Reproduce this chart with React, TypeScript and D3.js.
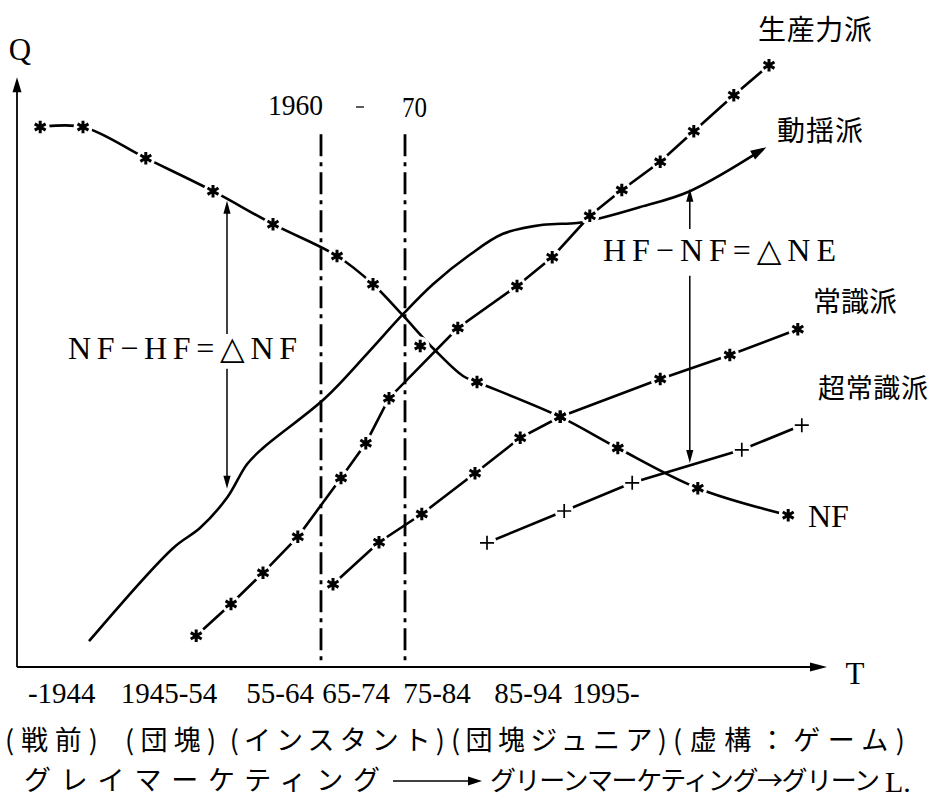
import React from "react";
import * as d3 from "d3";

type P = [number, number];

// x: period position (0–100), y: Q (0–100)
const nfPath: P[] = [[2.9, 90], [8.25, 90], [16.1, 84.8], [24.5, 79.3], [32, 73.8], [40, 68.5], [44.5, 63.8], [48.1, 58.8], [52.1, 53], [55.75, 48.5], [57.5, 47.5], [67.9, 41.7], [75.1, 36.5], [85.1, 29.8], [96.4, 25.3]];
const nfMarks: P[] = [[2.9, 90], [8.25, 90], [16.1, 84.8], [24.5, 79.3], [32, 73.8], [40, 68.5], [44.5, 63.8], [50.4, 53.5], [57.5, 47.5], [67.9, 41.7], [75.1, 36.5], [85.1, 29.8], [96.4, 25.3]];
const productive: P[] = [[22.4, 5.2], [26.75, 10.5], [30.75, 15.7], [35.1, 21.7], [40.5, 31.5], [43.6, 37.3], [46.5, 44.8], [55.1, 56.5], [62.5, 63.5], [66.9, 68.3], [71.6, 75.2], [75.6, 79.5], [80.4, 84.2], [84.6, 89.3], [89.6, 95.3], [94, 100.3]];
const sway: P[] = [[9, 4.3], [19.5, 19.8], [22.9, 23.2], [26.25, 28.2], [28.75, 33.8], [30.75, 36.5], [38.5, 44.8], [43.75, 52.2], [48.25, 58.8], [52, 63.8], [56.6, 68.7], [60.75, 72.2], [65.75, 73.7], [70, 74], [72.9, 74.8], [77.5, 76.5], [84.1, 79.3], [93.25, 86.3]];
const common: P[] = [[39.5, 13.8], [45.25, 20.8], [50.6, 25.5], [57.25, 32.3], [62.9, 38.2], [67.9, 41.7], [80.4, 48], [89.1, 52], [97.6, 56.3]];
const superCommon: P[] = [[58.75, 20.7], [68.4, 26], [76.9, 30.7], [90.6, 36.2], [98.1, 40.3]];

const periodLineX = [38, 48.5];
const periodLineTop = 88.8;

const tickLabels = ["-1944", "1945-54", "55-64", "65-74", "75-84", "85-94", "1995-"];
const tickAt = [5.6, 19, 32.9, 42.4, 52.5, 63.9, 73.6];

const eraLabels = ["(戦前)", "(団塊)", "(インスタント)", "(団塊ジュニア)", "(虚構：ゲーム)"];
const eraSpan: P[] = [[-1.5, 10.1], [13.5, 24.9], [26.6, 53.5], [54.25, 81.25], [82, 111]];

// delta arrows: [x, top tip, gap top, gap bottom, bottom tip]
const deltaNF = [26.25, 77.7, 55.5, 49.7, 29.7];
const deltaNE = [84.1, 79.7, 73, 65.2, 34];

const W = 939, H = 798;
const SERIF = "'Liberation Serif', 'DejaVu Serif', serif";
const CJK = "'Noto Sans CJK JP', sans-serif";

function Star({ cx, cy }: { cx: number; cy: number }) {
  const r = 6.3;
  const d = [90, 30, -30].map(a => {
    const t = (a * Math.PI) / 180;
    return `M${cx - r * Math.cos(t)},${cy - r * Math.sin(t)}L${cx + r * Math.cos(t)},${cy + r * Math.sin(t)}`;
  }).join("");
  return (
    <g>
      <path d={d} stroke="#000" strokeWidth={3} strokeLinecap="butt" />
      <circle cx={cx} cy={cy} r={2.8} fill="#000" />
    </g>
  );
}

function Plus({ cx, cy }: { cx: number; cy: number }) {
  const r = 7;
  return <path d={`M${cx - r},${cy}H${cx + r}M${cx},${cy - r}V${cy + r}`} stroke="#000" strokeWidth={1.7} />;
}

function arrowHead(tipX: number, tipY: number, angle: number, len: number, half: number) {
  const bx = tipX - len * Math.cos(angle), by = tipY - len * Math.sin(angle);
  const nx = -Math.sin(angle), ny = Math.cos(angle);
  return `M${tipX},${tipY}L${bx + nx * half},${by + ny * half}L${bx - nx * half},${by - ny * half}Z`;
}

export default function App() {
  const x = d3.scaleLinear().domain([0, 100]).range([17, 817]);
  const y = d3.scaleLinear().domain([0, 100]).range([667, 67]);

  const curve = d3.line<P>().x(d => x(d[0])).y(d => y(d[1])).curve(d3.curveCatmullRom.alpha(0.5));
  const straight = d3.line<P>().x(d => x(d[0])).y(d => y(d[1]));

  const x0 = x(0), y0 = y(0);
  const xTip = x(101.25), yTip = y(98.3);

  const last = sway[sway.length - 1], prev = sway[sway.length - 2];
  const swayAng = Math.atan2(y(last[1]) - y(prev[1]), x(last[0]) - x(prev[0]));

  const starMarks: P[] = [...nfMarks, ...productive, ...common];

  const deltaArrow = (a: number[]) => {
    const ax = x(a[0]);
    return (
      <g>
        <line x1={ax} x2={ax} y1={y(a[1]) + 10} y2={y(a[2])} stroke="#000" strokeWidth={1.5} />
        <line x1={ax} x2={ax} y1={y(a[3])} y2={y(a[4]) - 10} stroke="#000" strokeWidth={1.5} />
        <path d={arrowHead(ax, y(a[1]), -Math.PI / 2, 13, 3.6)} fill="#000" />
        <path d={arrowHead(ax, y(a[4]), Math.PI / 2, 13, 3.6)} fill="#000" />
      </g>
    );
  };

  return (
    <svg width={W} height={H} viewBox={`0 0 ${W} ${H}`} style={{ display: "block", position: "absolute", left: 0, top: 0, background: "#fff" }}>
      <rect width={W} height={H} fill="#fff" />
      {/* axes */}
      <line x1={x0} x2={x0} y1={y0} y2={yTip + 12} stroke="#000" strokeWidth={1.8} />
      <path d={arrowHead(x0, yTip, -Math.PI / 2, 15, 4.5)} fill="#000" />
      <line x1={x0} x2={xTip - 12} y1={y0} y2={y0} stroke="#000" strokeWidth={1.8} />
      <path d={arrowHead(xTip, y0, 0, 17, 4.5)} fill="#000" />
      <text x={x0 + 3} y={60} fontFamily={SERIF} fontSize={31} textAnchor="middle">Q</text>
      <text x={xTip + 28} y={684} fontFamily={SERIF} fontSize={31} textAnchor="middle">T</text>

      {/* series */}
      <g fill="none" stroke="#000" strokeWidth={2.6}>
        <path d={curve(nfPath) || ""} />
        <path d={straight(productive) || ""} />
        <path d={curve(sway) || ""} />
        <path d={straight(common) || ""} />
        <path d={straight(superCommon) || ""} />
      </g>
      <path d={arrowHead(x(last[0]) + 4 * Math.cos(swayAng), y(last[1]) + 4 * Math.sin(swayAng), swayAng, 16, 5)} fill="#000" />

      {/* gaps around markers */}
      <g fill="#fff">
        {starMarks.map((d, i) => <circle key={"g" + i} cx={x(d[0])} cy={y(d[1])} r={9.5} />)}
        {superCommon.map((d, i) => <circle key={"h" + i} cx={x(d[0])} cy={y(d[1])} r={9.5} />)}
      </g>

      {/* period lines */}
      {periodLineX.map((v, i) => (
        <line key={"v" + i} x1={x(v)} x2={x(v)} y1={y(periodLineTop)} y2={y0} stroke="#000" strokeWidth={2.8} strokeDasharray="22 6 4 6" />
      ))}
      <text x={x(periodLineX[0]) + 2} y={115} fontFamily={SERIF} fontSize={30} textAnchor="end" textLength={55} lengthAdjust="spacingAndGlyphs">1960</text>
      <line x1={356} x2={364} y1={107} y2={107} stroke="#000" strokeWidth={1.3} />
      <text x={x(periodLineX[1]) - 3} y={117} fontFamily={SERIF} fontSize={30} textLength={25} lengthAdjust="spacingAndGlyphs">70</text>

      {/* delta arrows */}
      {deltaArrow(deltaNF)}
      {deltaArrow(deltaNE)}
      <text x={68} y={359} fontFamily={SERIF} fontSize={32} textLength={229} lengthAdjust="spacing">NF−HF=△NF</text>
      <text x={603} y={261} fontFamily={SERIF} fontSize={32} textLength={233} lengthAdjust="spacing">HF−NF=△NE</text>

      {/* markers */}
      {starMarks.map((d, i) => <Star key={"s" + i} cx={x(d[0])} cy={y(d[1])} />)}
      {superCommon.map((d, i) => <Plus key={"p" + i} cx={x(d[0])} cy={y(d[1])} />)}

      {/* series labels */}
      <text x={758} y={40} fontFamily={CJK} fontSize={28} textLength={114} lengthAdjust="spacing">生産力派</text>
      <text x={777} y={141} fontFamily={CJK} fontSize={28} textLength={86} lengthAdjust="spacing">動揺派</text>
      <text x={813} y={312} fontFamily={CJK} fontSize={28} textLength={84} lengthAdjust="spacing">常識派</text>
      <text x={818} y={398} fontFamily={CJK} fontSize={27} textLength={110} lengthAdjust="spacing">超常識派</text>
      <text x={808} y={527} fontFamily={SERIF} fontSize={32}>NF</text>

      {/* x tick labels */}
      {tickLabels.map((t, i) => (
        <text key={"t" + i} x={x(tickAt[i])} y={703} fontFamily={SERIF} fontSize={29} textAnchor="middle">{t}</text>
      ))}
      {eraLabels.map((t, i) => (
        <text key={"e" + i} x={x(eraSpan[i][0])} y={750} fontFamily={CJK} fontSize={27} textLength={(eraSpan[i][1] - eraSpan[i][0]) * 8} lengthAdjust="spacing">{t}</text>
      ))}
      <text x={24} y={790} fontFamily={CJK} fontSize={27} textLength={356} lengthAdjust="spacing">グレイマーケティング</text>
      <line x1={393} x2={470} y1={781} y2={781} stroke="#000" strokeWidth={1.5} />
      <path d={arrowHead(482, 781, 0, 14, 4.5)} fill="#000" />
      <text x={490} y={790} fontFamily={CJK} fontSize={26} textLength={390} lengthAdjust="spacing">グリーンマーケティング→グリーン</text>
      <text x={885} y={792} fontFamily={SERIF} fontSize={30}>L.</text>
    </svg>
  );
}
